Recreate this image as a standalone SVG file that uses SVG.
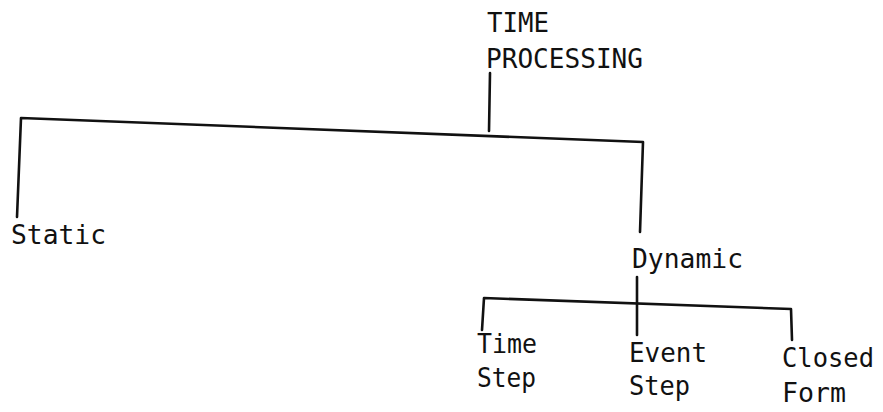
<svg xmlns="http://www.w3.org/2000/svg" width="883" height="412" viewBox="0 0 883 412">
<style>
text{font-family:"DejaVu Sans Mono","Liberation Mono",monospace;font-size:27px;fill:#111}
.c{fill:none;stroke:#111;stroke-width:2.6;stroke-linecap:round;stroke-linejoin:round}
</style>
<rect width="883" height="412" fill="#fff"/>
<g id="connectors">
<path class="c" d="M490 73 L489 131"/>
<path class="c" d="M17 217 L21 118 L643 142 L640 232"/>
<path class="c" d="M637 277 L637 335"/>
<path class="c" d="M482 330 L484 298 L791 309 L792 340"/>
</g>
<g id="n-root">
<text x="487" y="32" textLength="62" lengthAdjust="spacingAndGlyphs">TIME</text>
<text x="486" y="68" textLength="157" lengthAdjust="spacingAndGlyphs">PROCESSING</text>
</g>
<g id="n-static"><text x="11" y="244" textLength="95" lengthAdjust="spacingAndGlyphs">Static</text></g>
<g id="n-dynamic"><text x="632" y="268" textLength="111" lengthAdjust="spacingAndGlyphs">Dynamic</text></g>
<g id="n-timestep">
<text x="477" y="353" textLength="60" lengthAdjust="spacingAndGlyphs">Time</text>
<text x="477" y="387" textLength="59" lengthAdjust="spacingAndGlyphs">Step</text>
</g>
<g id="n-eventstep">
<text x="629" y="362" textLength="78" lengthAdjust="spacingAndGlyphs">Event</text>
<text x="629" y="395" textLength="61" lengthAdjust="spacingAndGlyphs">Step</text>
</g>
<g id="n-closedform">
<text x="782" y="367" textLength="92" lengthAdjust="spacingAndGlyphs">Closed</text>
<text x="782" y="402" textLength="64" lengthAdjust="spacingAndGlyphs">Form</text>
</g>
</svg>
